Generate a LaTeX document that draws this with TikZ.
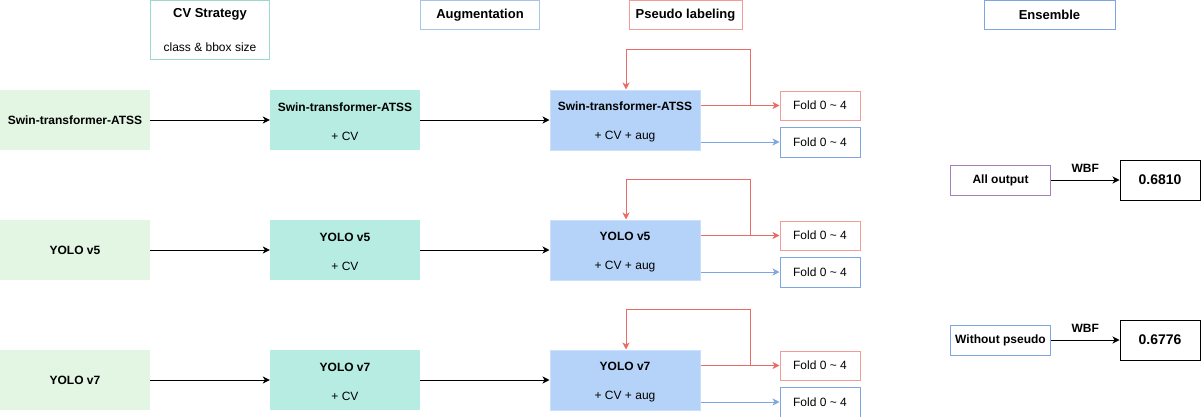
\documentclass[tikz,border=0pt]{standalone}
\usepackage{fontspec}
\setmainfont{Liberation Sans}
\usetikzlibrary{arrows.meta,calc}
\definecolor{gfill}{HTML}{E3F5E3}
\definecolor{tfill}{HTML}{B6ECE1}
\definecolor{bfill}{HTML}{B5D3F8}
\definecolor{tline}{HTML}{9AD9CC}
\definecolor{aline}{HTML}{A9C4EB}
\definecolor{pline}{HTML}{F19C99}
\definecolor{rline}{HTML}{EA6B66}
\definecolor{bline}{HTML}{7EA6E0}
\definecolor{vline}{HTML}{A680B8}
\tikzset{
  every node/.style={font=\fontsize{12}{14}\selectfont, inner sep=0pt},
  hdr/.style={draw, line width=1pt, minimum height=29pt, font=\fontsize{13}{15}\selectfont\bfseries},
  basebox/.style={fill=gfill, minimum width=150pt, minimum height=60pt, font=\fontsize{12}{14}\selectfont\bfseries},
  cvbox/.style={fill=tfill, minimum width=150pt, minimum height=60pt, align=center},
  augbox/.style={fill=bfill, draw=bfill!70!white, line width=1pt, minimum width=150pt, minimum height=60pt, align=center},
  foldr/.style={draw=pline, line width=1pt, minimum width=80pt, minimum height=29pt},
  foldb/.style={draw=bline, line width=1pt, minimum width=80pt, minimum height=30pt},
  ens/.style={draw, line width=1pt, minimum width=100pt, minimum height=30pt, font=\fontsize{12}{14}\selectfont\bfseries},
  res/.style={draw=black, line width=1pt, minimum width=80pt, minimum height=40pt, font=\fontsize{14}{16}\selectfont\bfseries},
  arr/.style={line width=1pt, -{Stealth[length=7pt,width=7pt,inset=2pt]}},
  lbl/.style={font=\fontsize{12}{14}\selectfont\bfseries}
}
\begin{document}
\begin{tikzpicture}[x=1pt,y=-1pt]
\useasboundingbox (0,0) rectangle (1201,416);
% headers
\node[hdr, draw=tline, minimum width=119pt, minimum height=59pt] (hcv) at (210,30) {};
\node[font=\fontsize{13}{15}\selectfont\bfseries] (hcvt) at (210,14) {CV Strategy};
\node (hcvs) at (210,47) {class \& bbox size};
\node[hdr, draw=aline, minimum width=119pt] (haug) at (480,15) {Augmentation};
\node[hdr, draw=pline, minimum width=113pt] (hps) at (685.5,15) {Pseudo labeling};
\node[hdr, draw=bline, minimum width=131pt] (hens) at (1049.5,15) {Ensemble};
% rows
\foreach \r/\nm in {1/Swin-transformer-ATSS,2/YOLO v5,3/YOLO v7}{
  \pgfmathsetmacro{\top}{90+130*(\r-1)}
  \node[basebox] (b\r) at (75,\top+30) {\nm};
  \node[cvbox] (c\r) at (345,\top+30) {\rule{0pt}{13pt}\textbf{\nm}\\[15pt]+ CV};
  \node[augbox] (a\r) at (625,\top+30) {\rule{0pt}{13pt}\textbf{\nm}\\[15pt]+ CV + aug};
  \node[foldr] (fr\r) at (820,\top+15.5) {Fold 0 \char`~{} 4};
  \node[foldb] (fb\r) at (820,\top+52) {Fold 0 \char`~{} 4};
  \draw[arr] (b\r) -- (c\r);
  \draw[arr] (c\r) -- (a\r);
  \draw[arr, rline] (a\r.east |- fr\r) -- (fr\r.west);
  \coordinate (j\r) at ($(a\r.east |- fr\r)+(50,0)$);
  \draw[arr, rline] (j\r) |- ($(a\r.north)+(1,-40)$) -- ($(a\r.north)+(1,0)$);
  \draw[arr, bline] (a\r.east |- fb\r) -- (fb\r.west);
}
% ensemble
\node[ens, draw=vline] (e1) at (1000.5,180) {All output};
\node[res] (r1) at (1160,180) {0.6810};
\draw[arr] (e1) -- node[lbl, above=7pt] (w1) {WBF} (r1);
\node[ens, draw=bline] (e2) at (1000.5,340) {Without pseudo};
\node[res] (r2) at (1160,340) {0.6776};
\draw[arr] (e2) -- node[lbl, above=7pt] (w2) {WBF} (r2);
\end{tikzpicture}
\end{document}
